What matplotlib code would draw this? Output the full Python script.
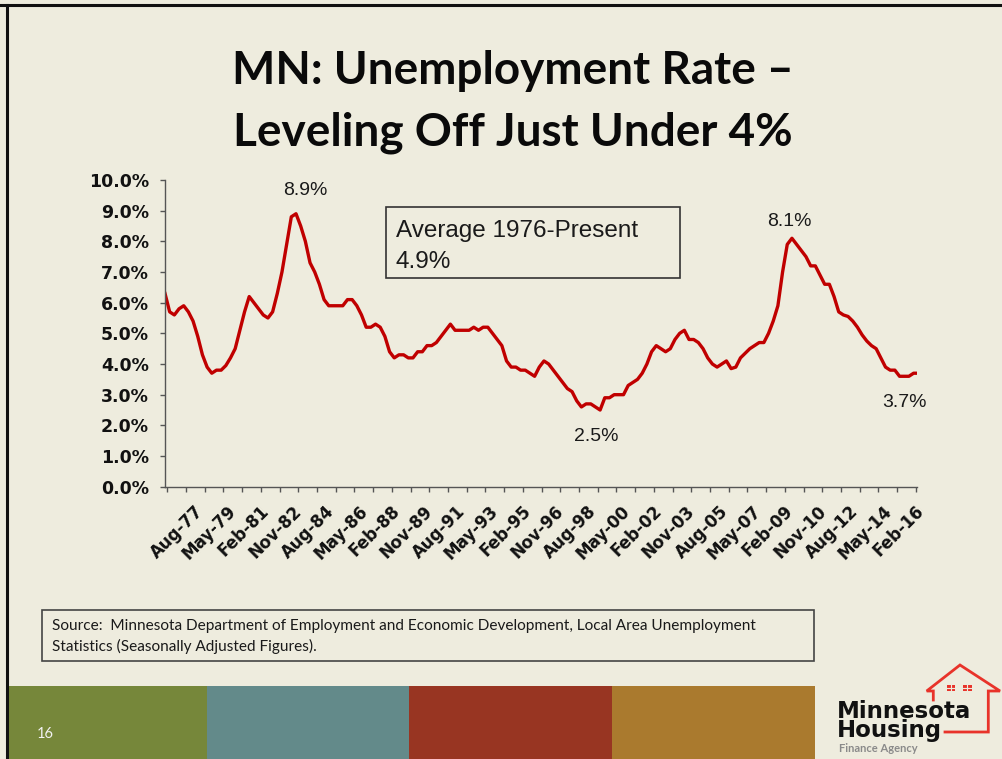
import numpy as np
import pandas as pd
import matplotlib
matplotlib.use('Agg')
import matplotlib.pyplot as plt
from matplotlib.patches import Rectangle
from matplotlib.lines import Line2D

# ---------------- data (quarterly readings, Jan-1976 .. Jan-2016, plus Mar-2016) ----------------
rate = [6.3, 5.7, 5.6, 5.8, 5.9, 5.7, 5.4, 4.9, 4.3, 3.9, 3.7, 3.8, 3.8, 3.95, 4.2, 4.5,
        5.1, 5.7, 6.2, 6.0, 5.8, 5.6, 5.5, 5.7, 6.3, 7.0, 7.9, 8.8, 8.9, 8.5, 8.0, 7.3,
        7.0, 6.6, 6.1, 5.9, 5.9, 5.9, 5.9, 6.1, 6.1, 5.9, 5.6, 5.2, 5.2, 5.3, 5.2, 4.9,
        4.4, 4.2, 4.3, 4.3, 4.2, 4.2, 4.4, 4.4, 4.6, 4.6, 4.7, 4.9, 5.1, 5.3, 5.1, 5.1,
        5.1, 5.1, 5.2, 5.1, 5.2, 5.2, 5.0, 4.8, 4.6, 4.1, 3.9, 3.9, 3.8, 3.8, 3.7, 3.6,
        3.9, 4.1, 4.0, 3.8, 3.6, 3.4, 3.2, 3.1, 2.8, 2.6, 2.7, 2.7, 2.6, 2.5, 2.9, 2.9,
        3.0, 3.0, 3.0, 3.3, 3.4, 3.5, 3.7, 4.0, 4.4, 4.6, 4.5, 4.4, 4.5, 4.8, 5.0, 5.1,
        4.8, 4.8, 4.7, 4.5, 4.2, 4.0, 3.9, 4.0, 4.1, 3.85, 3.9, 4.2, 4.35, 4.5, 4.6, 4.7,
        4.7, 5.0, 5.4, 5.9, 7.0, 7.9, 8.1, 7.9, 7.7, 7.5, 7.2, 7.2, 6.9, 6.6, 6.6, 6.2,
        5.7, 5.6, 5.55, 5.4, 5.2, 4.95, 4.75, 4.6, 4.5, 4.2, 3.9, 3.8, 3.8, 3.6, 3.6, 3.6,
        3.7, 3.7]
dates = list(pd.date_range('1976-01-01', '2016-01-01', freq='3MS')) + [pd.Timestamp('2016-03-01')]

tick_labels = ['Aug-77', 'May-79', 'Feb-81', 'Nov-82', 'Aug-84', 'May-86', 'Feb-88', 'Nov-89',
               'Aug-91', 'May-93', 'Feb-95', 'Nov-96', 'Aug-98', 'May-00', 'Feb-02', 'Nov-03',
               'Aug-05', 'May-07', 'Feb-09', 'Nov-10', 'Aug-12', 'May-14', 'Feb-16']
y_ticks = [0, 1, 2, 3, 4, 5, 6, 7, 8, 9, 10]

title_lines = ['MN: Unemployment Rate \u2013', 'Leveling Off Just Under 4%']
avg_lines = ['Average 1976-Present', '4.9%']
source_lines = ['Source:  Minnesota Department of Employment and Economic Development, Local Area Unemployment',
                'Statistics (Seasonally Adjusted Figures).']
band_colors = ['#76873a', '#638a8a', '#983522', '#aa7a2e']
page_number = '16'

# ---------------- helpers ----------------
W, H = 1003, 759
BG = '#eeecde'
RED = '#c00000'


def month_index(ts):
    return (ts.year - 1976) * 12 + ts.month - 1


def fx(x):
    return x / W


def fy(y):
    return 1 - y / H


x = np.array([month_index(d) for d in dates])
y = np.array(rate)
tick_pos = [month_index(pd.to_datetime(t, format='%b-%y')) for t in tick_labels]

fig = plt.figure(figsize=(W / 100, H / 100), dpi=100, facecolor=BG)

# ---------------- chart ----------------
ax = fig.add_axes([fx(165), fy(486.7), (916.7 - 165) / W, (486.7 - 180) / H])
ax.set_facecolor(BG)
ax.plot(x, y, color=RED, lw=2.4, solid_joinstyle='round')
ax.set_xlim(0, 482)
ax.set_ylim(0, 10)

for s in ['top', 'right']:
    ax.spines[s].set_visible(False)
for s in ['left', 'bottom']:
    ax.spines[s].set_color('#555555')
    ax.spines[s].set_linewidth(1.0)

ax.set_yticks(y_ticks)
ax.set_yticklabels([f'{v:.1f}%' for v in y_ticks], fontfamily='DejaVu Sans',
                   fontweight='bold', fontsize=12.5, color='#111111')
ax.tick_params(axis='y', direction='out', length=3.6, width=1.0, color='#555555', pad=8)

ax.set_xticks(tick_pos)
ax.set_xticklabels(tick_labels, rotation=45, ha='right', va='top', rotation_mode='anchor',
                   fontfamily='DejaVu Sans', fontweight='bold', fontsize=12, color='#111111')
ax.tick_params(axis='x', which='major', length=0, pad=11)
ax.set_xticks(np.arange(1.5, 483, 12), minor=True)
ax.tick_params(axis='x', which='minor', direction='out', length=3.6, width=1.0, color='#555555')

# data labels
i_peak1 = int(np.argmax(np.where(x < 200, y, 0)))
i_peak2 = int(np.argmax(np.where(x > 360, y, 0)))
i_min = int(np.argmin(y))
i_last = len(y) - 1
callouts = [(i_peak1, (7, 17)), (i_peak2, (-2, 12)), (i_min, (-3, -19)), (i_last, (-8.5, -21))]
for i, off in callouts:
    ax.annotate(f'{y[i]:.1f}%', xy=(x[i], y[i]), xytext=off, textcoords='offset points',
                ha='center', va='center', fontsize=14, fontfamily='Liberation Sans',
                color='#1a1a1a')

# average box
fig.patches.append(Rectangle((fx(386), fy(278)), (680 - 386) / W, (278 - 207) / H,
                             transform=fig.transFigure, fill=False, ec='#333333', lw=1.2))
for txt, base in zip(avg_lines, (237, 268.5)):
    fig.text(fx(396), fy(base), txt, ha='left', va='baseline', fontsize=17.5,
             fontfamily='Liberation Sans', color='#1a1a1a')

# ---------------- slide decoration ----------------
for txt, base in zip(title_lines, (84, 146)):
    fig.text(fx(513), fy(base), txt, ha='center', va='baseline', fontsize=33,
             fontfamily='Lato', fontweight='bold', color='#0a0a0a')

fig.patches.append(Rectangle((fx(42), fy(661)), (814 - 42) / W, (661 - 610) / H,
                             transform=fig.transFigure, fill=False, ec='#444444', lw=1.2))
for txt, base in zip(source_lines, (630, 651)):
    fig.text(fx(52), fy(base), txt, ha='left', va='baseline', fontsize=11.1,
             fontfamily='Lato', color='#1a1a1a')

band_edges = [9, 207, 409, 612, 815]
for c, x0, x1 in zip(band_colors, band_edges[:-1], band_edges[1:]):
    fig.patches.append(Rectangle((fx(x0), 0), (x1 - x0) / W, (759 - 686) / H,
                                 transform=fig.transFigure, color=c, lw=0))
fig.text(fx(37), fy(734), page_number, ha='left', va='center', fontsize=10.5,
         fontfamily='Lato', color='#f2f2f2')

# frame lines (top and left)
fig.lines.append(Line2D([0, 1], [fy(5), fy(5)], transform=fig.transFigure, color='#111111', lw=2.2))
fig.lines.append(Line2D([fx(7), fx(7)], [0, fy(5)], transform=fig.transFigure, color='#111111', lw=2.2))

# logo
house_red = '#e8332a'
outline_left = [(933.3, 700), (933.3, 691), (926.7, 691), (960, 665), (1000, 691), (988.3, 691),
                (988.3, 732), (945, 732)]
fig.lines.append(Line2D([fx(p[0]) for p in outline_left], [fy(p[1]) for p in outline_left],
                        transform=fig.transFigure, color=house_red, lw=2.0,
                        solid_joinstyle='miter'))
for wx in (946.7, 963.3):
    fig.patches.append(Rectangle((fx(wx), fy(691)), 8.3 / W, 6.5 / H, transform=fig.transFigure,
                                 color=house_red, lw=0))
    fig.lines.append(Line2D([fx(wx + 4.15), fx(wx + 4.15)], [fy(691), fy(684.5)],
                            transform=fig.transFigure, color=BG, lw=0.8))
    fig.lines.append(Line2D([fx(wx), fx(wx + 8.3)], [fy(687.75), fy(687.75)],
                            transform=fig.transFigure, color=BG, lw=0.8))
fig.text(fx(837), fy(737), 'Minnesota\nHousing', ha='left', va='baseline', fontsize=16.5,
         fontfamily='DejaVu Sans', fontweight='bold', color='#111111', linespacing=0.8,
         multialignment='left')
fig.text(fx(839), fy(752), 'Finance Agency', ha='left', va='baseline', fontsize=8,
         fontfamily='Lato', fontweight='bold', color='#8a8a8a')

fig.savefig('out.png', dpi=100, facecolor=BG)
